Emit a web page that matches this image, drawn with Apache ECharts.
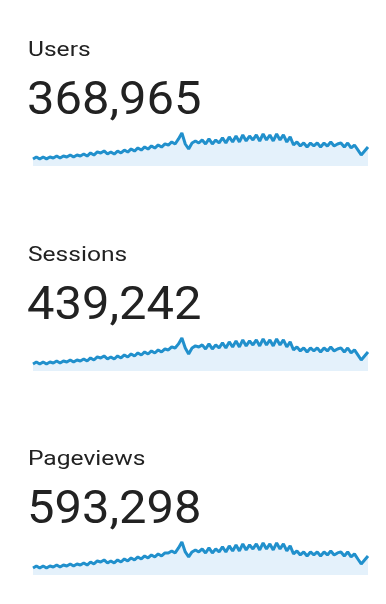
<!DOCTYPE html>
<html><head><meta charset="utf-8">
<script src="https://cdn.jsdelivr.net/npm/echarts@6/dist/echarts.min.js"></script>
<style>html,body{margin:0;padding:0;background:#fff}#c{width:386px;height:604px}</style>
</head><body><div id="c"></div>
<script>
const labels = ["Users", "Sessions", "Pageviews"];
const totals = ["368,965", "439,242", "593,298"];
const users = [
1302,1671,1288,1660,1310,1657,1485,1846,1473,1858,
1668,2041,1659,2030,1856,2214,1843,2410,2029,2598,
2397,2781,2226,2583,2214,2769,2411,2955,2584,3152,
2768,3337,2951,3521,3139,3708,3322,3893,3508,4077,
3880,4437,4064,4998,6110,4066,3140,4260,4618,4251,
4817,4062,5001,4078,4803,4261,5188,4247,5371,4433,
5557,4446,5728,4631,5543,4817,5742,4618,5927,4803,
5729,4632,5914,4818,5741,4433,5372,3879,4447,3694,
4262,3509,4248,3707,4261,3522,4249,3693,4446,3707,
4064,4262,3508,4249,3337,3878,2966,2029,2781,3521
];
const sessions = [
1547,1973,1534,1988,1546,1972,1768,2193,1753,2207,
1986,2427,1972,2414,2206,2633,2194,2868,2413,3087,
2853,3307,2646,3073,2633,3294,2867,3527,3074,3748,
3293,3967,3514,4187,3733,4406,3953,4628,4173,4833,
4622,5286,5052,5948,7255,5068,3733,5055,5508,5274,
5727,4833,5947,4846,5713,5067,6167,5053,6388,5273,
6607,5287,6813,5507,6593,5727,6827,5494,7046,5713,
6814,5507,7033,5727,6826,5273,6387,4613,5287,4393,
5067,4173,5053,4407,5066,4187,5053,4393,5287,4406,
4833,5067,4173,5053,3967,4627,3527,2413,3307,4187
];
const pageviews = [
2088,2666,2072,2681,2086,2664,2384,2962,2369,2978,
2680,3259,2666,3274,2962,3571,2956,3853,3275,4150,
3868,4447,3557,4165,3571,4448,3853,4760,4151,5042,
4462,5339,4745,5651,5042,5933,5353,6230,5650,6541,
6527,7135,6540,8025,9795,6838,5352,6824,7432,6837,
7729,6527,8026,6541,7715,6838,8323,6824,8620,7121,
8917,7135,9214,7418,8903,7729,9200,7432,9511,7715,
9214,7418,9497,7729,9200,7135,8620,6230,7135,5933,
6838,5636,6824,5947,6838,5650,6824,5933,7121,5947,
6541,6838,5636,6824,5353,6244,4745,3274,4462,5650
];
const days = users.map((_, i) => "D" + (i + 1));
const seriesData = [users, sessions, pageviews];

const chart = echarts.init(document.getElementById('c'), null, {renderer: 'canvas'});
const offsets = [0, 205, 409];
const grids = [], xAxes = [], yAxes = [], series = [], graphics = [];
offsets.forEach((o, k) => {
  grids.push({left: 33, right: 18, top: 126 + o, height: 40});
  xAxes.push({type: 'category', gridIndex: k, data: days, boundaryGap: false, show: false});
  yAxes.push({type: 'value', gridIndex: k, min: 0, max: v => v.max * 1.21, show: false});
  series.push({
    type: 'line', xAxisIndex: k, yAxisIndex: k, data: seriesData[k],
    symbol: 'none', smooth: false, silent: true,
    lineStyle: {color: '#2190cc', width: 3},
    areaStyle: {color: '#e4f1fb', opacity: 1}
  });
  graphics.push({type: 'text', x: 28, y: 40 + o, scaleX: 1.17,
    style: {text: labels[k], font: '21px Roboto', fill: '#222', verticalAlign: 'top'}});
  graphics.push({type: 'text', x: 27, y: 79 + o, scaleX: 1.04,
    style: {text: totals[k], font: '47px Roboto', fill: '#222', verticalAlign: 'top'}});
});
chart.setOption({animation: false, grid: grids, xAxis: xAxes, yAxis: yAxes, series, graphic: graphics});
</script></body></html>
